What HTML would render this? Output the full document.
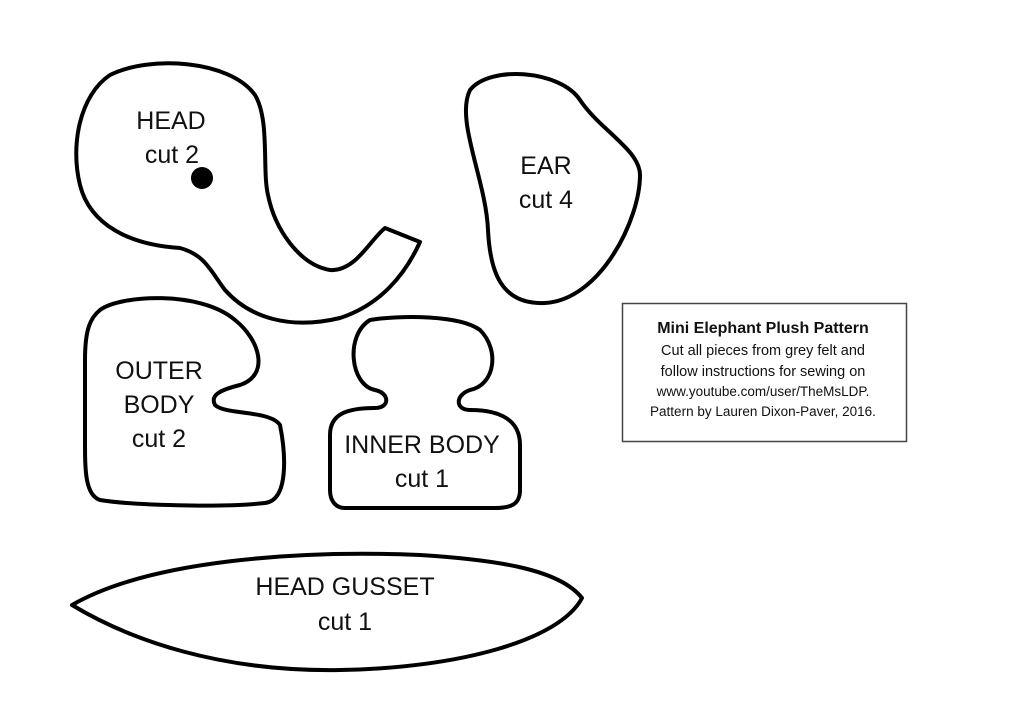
<!DOCTYPE html>
<html><head><meta charset="utf-8"><style>
html,body{margin:0;padding:0;background:#fff;}
svg{display:block;}
text{font-family:"Liberation Sans",sans-serif;fill:#111;}
</style></head><body>
<svg width="1024" height="724" viewBox="0 0 1024 724" xmlns="http://www.w3.org/2000/svg">
<g fill="none" stroke="#000" stroke-width="4" stroke-linejoin="round">
<path d="M 110,75 C 150,55 230,60 255,95 C 270,120 262,170 268,195 C 275,230 300,265 330,270 C 355,272 370,240 385,228 L 420,242 C 405,275 380,305 340,318 C 290,330 250,318 225,290 C 210,270 205,255 180,248 C 130,245 90,225 80,185 C 70,145 80,95 110,75 Z"/>
<path d="M 470,90 C 490,65 560,70 580,100 C 600,130 640,150 640,175 C 640,220 600,300 545,303 C 500,305 490,270 488,230 C 486,180 455,120 470,90 Z"/>
<path d="M 100,310 C 120,295 200,290 235,320 C 260,340 270,375 240,385 C 220,390 210,395 215,405 C 225,415 270,410 280,425 C 285,450 290,500 265,503 C 220,508 130,505 100,500 C 85,495 85,470 85,440 L 85,360 C 85,330 90,318 100,310 Z"/>
<path d="M 370,320 C 400,315 460,315 480,330 C 500,350 495,385 470,390 C 455,395 455,410 470,410 C 500,410 520,420 520,445 L 520,490 C 520,505 510,508 495,508 L 345,508 C 335,508 330,500 330,490 L 330,435 C 330,415 345,408 375,408 C 390,408 390,393 375,390 C 350,385 345,335 370,320 Z"/>
<path d="M 72,605 C 150,560 300,550 420,555 C 500,560 560,570 582,598 C 560,640 460,668 340,670 C 220,672 130,640 72,605 Z"/>
</g>
<circle cx="202" cy="178" r="11" fill="#000"/>
<g font-size="25" text-anchor="middle">
<text x="171" y="129">HEAD</text><text x="172" y="163">cut 2</text>
<text x="546" y="174">EAR</text><text x="546" y="208">cut 4</text>
<text x="159" y="379">OUTER</text><text x="159" y="413">BODY</text><text x="159" y="447">cut 2</text>
<text x="422" y="453">INNER BODY</text><text x="422" y="487">cut 1</text>
<text x="345" y="595">HEAD GUSSET</text><text x="345" y="630">cut 1</text>
</g>
<rect x="622.5" y="303.5" width="284" height="138" fill="none" stroke="#444" stroke-width="1.5"/>
<g text-anchor="middle" font-size="14.5">
<text x="763" y="333" font-weight="bold" font-size="16">Mini Elephant Plush Pattern</text>
<text x="763" y="355">Cut all pieces from grey felt and</text>
<text x="763" y="376">follow instructions for sewing on</text>
<text x="763" y="396" font-size="13.5">www.youtube.com/user/TheMsLDP.</text>
<text x="763" y="416" font-size="13.5">Pattern by Lauren Dixon-Paver, 2016.</text>
</g>
</svg>
</body></html>
